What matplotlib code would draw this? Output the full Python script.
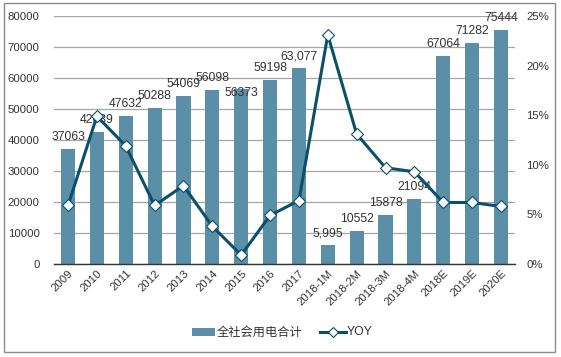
import matplotlib
matplotlib.use("Agg")
import matplotlib.pyplot as plt
from matplotlib.patches import Rectangle
from matplotlib.lines import Line2D
import numpy as np

plt.rcParams['font.family'] = ['Liberation Sans', 'Noto Sans CJK SC', 'DejaVu Sans']

categories = ["2009", "2010", "2011", "2012", "2013", "2014", "2015", "2016", "2017",
              "2018-1M", "2018-2M", "2018-3M", "2018-4M", "2018E", "2019E", "2020E"]
consumption = [37063, 42639, 47632, 50288, 54069, 56098, 56373, 59198, 63077,
               5995, 10552, 15878, 21094, 67064, 71282, 75444]
bar_labels = ["37063", "42639", "47632", "50288", "54069", "56098", "56373", "59198", "63,077",
              "5,995", "10552", "15878", "21094", "67064", "71282", "75444"]
yoy = [5.9, 14.9, 11.9, 5.9, 7.9, 3.8, 0.9, 4.9, 6.4,
       23.1, 13.1, 9.7, 9.3, 6.2, 6.2, 5.8]

bar_color = "#5B8FA7"
line_color = "#0B5068"
text_color = "#333333"

W, H = 561, 357
fig = plt.figure(figsize=(W/100, H/100), dpi=100)
ax = fig.add_axes([53.6/W, 1-264/H, (515.4-53.6)/W, (264-16)/H])
x = np.arange(len(categories))
ax.bar(x, consumption, width=0.49, color=bar_color, zorder=2)
ax.set_xlim(-0.5, len(categories)-0.5)
ax.set_ylim(0, 80000)
ax.set_yticks(np.arange(0, 80001, 10000))
ax.yaxis.grid(True, color="#a6a6a6", linewidth=0.9, zorder=0)
ax.set_axisbelow(True)
for s in ["top", "right", "left"]:
    ax.spines[s].set_visible(False)
ax.spines["bottom"].set_color("#333333")
ax.spines["bottom"].set_linewidth(1.0)
ax.tick_params(axis='y', length=0, labelsize=8.2, colors=text_color, pad=10)
ax.tick_params(axis='x', length=0, labelsize=8.2, colors=text_color, pad=3)
ax.set_xticks(x)
ax.set_xticklabels(categories, rotation=45, ha="right", rotation_mode="anchor")

for xi, v, lab in zip(x, consumption, bar_labels):
    if lab == "56373":
        ax.annotate(lab, (xi, v), xytext=(0, -4), textcoords="offset pixels",
                    ha="center", va="center", fontsize=8.8, color=text_color, zorder=5)
    else:
        ax.annotate(lab, (xi, v), xytext=(0, 12), textcoords="offset pixels",
                    ha="center", va="center", fontsize=8.8, color=text_color, zorder=5)

ax2 = ax.twinx()
ax2.set_ylim(0, 25)
ax2.set_yticks(np.arange(0, 26, 5))
ax2.set_yticklabels([f"{v}%" for v in range(0, 26, 5)])
for s in ["top", "right", "left", "bottom"]:
    ax2.spines[s].set_visible(False)
ax2.tick_params(axis='y', length=0, labelsize=8.2, colors=text_color, pad=8)
ax2.plot(x, yoy, color=line_color, linewidth=2.2, marker="D", markersize=6.5,
         markerfacecolor="white", markeredgecolor=line_color, markeredgewidth=0.8, zorder=4)

# legend
fig.patches.append(Rectangle((192/W, 1-336/H), 23/W, 8/H, transform=fig.transFigure,
                             facecolor=bar_color, edgecolor="none"))
fig.text(217/W, 1-332/H, "全社会用电合计", ha="left", va="center", fontsize=8.8,
         color=text_color, family=['Noto Sans CJK SC', 'DejaVu Sans'])
fig.lines.append(Line2D([320/W, 346/W], [1-332/H, 1-332/H], transform=fig.transFigure,
                        color=line_color, linewidth=2.2))
fig.lines.append(Line2D([333/W], [1-332/H], transform=fig.transFigure, marker="D",
                        markersize=5, markerfacecolor="white", markeredgecolor=line_color,
                        markeredgewidth=0.8, color=line_color))
fig.text(347/W, 1-332/H, "YOY", ha="left", va="center", fontsize=8.8, color=text_color)

# border
fig.patches.append(Rectangle((4/W, 1-352/H), (555-4)/W, (352-3)/H, transform=fig.transFigure,
                             facecolor="none", edgecolor="#8c8c8c", linewidth=1.0))

fig.savefig("out.png", dpi=100)
